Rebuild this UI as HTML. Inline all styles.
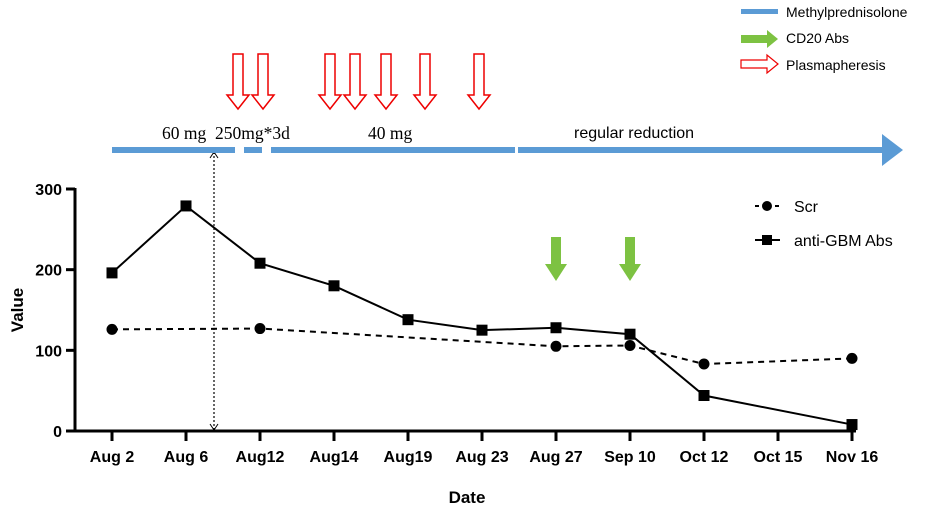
<!DOCTYPE html>
<html><head><meta charset="utf-8"><style>
body{margin:0;background:#fff}
svg{display:block;font-family:"Liberation Sans",Arial,sans-serif}
</style></head><body>
<svg id="c" width="935" height="511" viewBox="0 0 935 511"></svg>
<script>
const categories=["Aug 2","Aug 6","Aug12","Aug14","Aug19","Aug 23","Aug 27","Sep 10","Oct 12","Oct 15","Nov 16"];
const antiGBM=[196,279,208,180,138,125,128,120,44,null,8];
const scr=[126,null,127,null,null,null,105,106,83,null,90];
const yTicks=[0,100,200,300];
const plasmaX=[238,263,330,355,386,425,479];
const cd20Idx=[6,7];
const NS="http://www.w3.org/2000/svg";
const svg=document.getElementById('c');
function mk(t,a,txt){const e=document.createElementNS(NS,t);for(const k in a)e.setAttribute(k,a[k]);if(txt!=null)e.textContent=txt;svg.appendChild(e);return e;}
const x=i=>112+i*74;
const y=v=>431-v*(242/300);
let e=mk('line',{x1:75,y1:188,x2:75,y2:432,stroke:'#000','stroke-width':3});

e=mk('line',{x1:74,y1:431,x2:856,y2:431,stroke:'#000','stroke-width':3});

yTicks.forEach(v=>{
 e=mk('line',{x1:66,y1:y(v),x2:75,y2:y(v),stroke:'#000','stroke-width':3});
 
 e=mk('text',{x:62,y:y(v)+6,'text-anchor':'end','font-size':16,'font-weight':'bold'},v);
 
});
categories.forEach((c,i)=>{
 e=mk('line',{x1:x(i),y1:431,x2:x(i),y2:441,stroke:'#000','stroke-width':3});
 
 e=mk('text',{x:x(i),y:462,'text-anchor':'middle','font-size':16,'font-weight':'bold'},c);
 
});
e=mk('text',{x:467,y:503,'text-anchor':'middle','font-size':17,'font-weight':'bold'},'Date');

e=mk('text',{x:0,y:0,transform:'translate(23,310) rotate(-90)','text-anchor':'middle','font-size':17,'font-weight':'bold'},'Value');

function pts(arr){return arr.map((v,i)=>v==null?null:[x(i),y(v)]).filter(p=>p);}
const sp=pts(scr);
e=mk('polyline',{points:sp.map(p=>p.join(',')).join(' '),fill:'none',stroke:'#000','stroke-width':2,'stroke-dasharray':'6,5'});

sp.forEach(p=>{e=mk('circle',{cx:p[0],cy:p[1],r:5.5,fill:'#000'});
 });
const ap=pts(antiGBM);
e=mk('polyline',{points:ap.map(p=>p.join(',')).join(' '),fill:'none',stroke:'#000','stroke-width':2});

ap.forEach(p=>{e=mk('rect',{x:p[0]-5.5,y:p[1]-5.5,width:11,height:11,fill:'#000'});
 });
e=mk('line',{x1:214,y1:152,x2:214,y2:430,stroke:'#000','stroke-width':1.2,'stroke-dasharray':'2,2'});

mk('path',{d:'M210,158 L214,152 L218,158',fill:'none',stroke:'#000','stroke-width':1});
mk('path',{d:'M210,424 L214,430 L218,424',fill:'none',stroke:'#000','stroke-width':1});
[[112,235],[244,262],[271,515],[518,884]].forEach(s=>{
 e=mk('rect',{x:s[0],y:147,width:s[1]-s[0],height:6,fill:'#5b9bd5'});
 });
e=mk('polygon',{points:'882,134 903,150 882,166',fill:'#5b9bd5'});

[['60 mg',162,139],['250mg*3d',215,139],['40 mg',368,139]].forEach(t=>{
 e=mk('text',{x:t[1],y:t[2],'font-size':17.5,'font-family':'Liberation Serif,serif'},t[0]);
 });
e=mk('text',{x:574,y:138,'font-size':16},'regular reduction');

function redDown(cx,t,b){return `${cx-5},${t} ${cx+5},${t} ${cx+5},${b-14} ${cx+11},${b-14} ${cx},${b} ${cx-11},${b-14} ${cx-5},${b-14}`;}
plasmaX.forEach(cx=>{e=mk('polygon',{points:redDown(cx,54,109),fill:'#fff',stroke:'#e00','stroke-width':1.5});
 });
cd20Idx.forEach(i=>{const cx=x(i);
 e=mk('polygon',{points:`${cx-5},237 ${cx+5},237 ${cx+5},264 ${cx+11},264 ${cx},281 ${cx-11},264 ${cx-5},264`,fill:'#7dc242'});
 });
e=mk('rect',{x:741,y:9,width:37,height:5,fill:'#5b9bd5'});

e=mk('polygon',{points:'741,35 767,35 767,30 778,39 767,48 767,43 741,43',fill:'#7dc242'});

e=mk('polygon',{points:'741,60 767,60 767,55 778,64 767,73 767,68 741,68',fill:'#fff',stroke:'#e00','stroke-width':1.2});

[['Methylprednisolone',17],['CD20 Abs',43],['Plasmapheresis',70]].forEach(t=>{
 e=mk('text',{x:786,y:t[1],'font-size':14},t[0]);
 });
e=mk('line',{x1:755,y1:206,x2:780,y2:206,stroke:'#000','stroke-width':2,'stroke-dasharray':'4,6'});

e=mk('circle',{cx:767,cy:206,r:5,fill:'#000'});

e=mk('text',{x:794,y:212,'font-size':16},'Scr');

e=mk('line',{x1:755,y1:240,x2:780,y2:240,stroke:'#000','stroke-width':2});

e=mk('rect',{x:762,y:235,width:10,height:10,fill:'#000'});

e=mk('text',{x:794,y:246,'font-size':16},'anti-GBM Abs');

</script>
</body></html>
